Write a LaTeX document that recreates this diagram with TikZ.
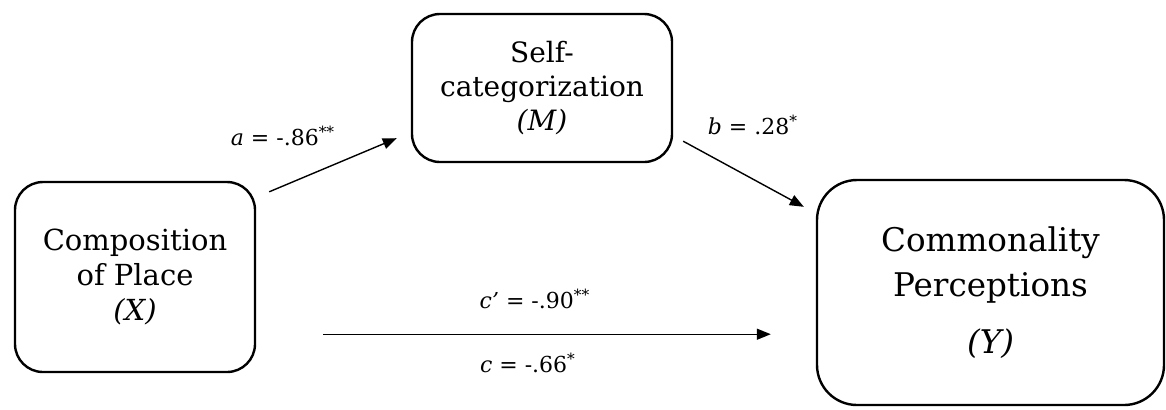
\documentclass[tikz,border=0pt]{standalone}
\usepackage{fontspec}
\setmainfont{DejaVu Serif}
\usetikzlibrary{arrows.meta, positioning, calc}

\begin{document}
\begin{tikzpicture}[x=0.5pt, y=-0.5pt,
        varbox/.style={draw, line width=1.2pt, rounded corners=14pt, align=center, inner sep=0pt},
        path/.style={line width=0.7pt, -{Triangle[length=7pt, width=5.5pt]}},
        coef/.style={font=\fontsize{11}{13}\selectfont}]
        \useasboundingbox (0,0) rectangle (1166,409);

        % X
        \node[varbox, minimum width=120pt, minimum height=95pt, font=\fontsize{14.5}{17.5}\selectfont] (X) at (135,277)
            {Composition\\of Place\\\textit{(X)}};

        % M
        \node[varbox, minimum width=130pt, minimum height=74pt, font=\fontsize{14}{17}\selectfont] (M) at (542,88)
            {Self-\\categorization\\\textit{(M)}};

        % Y
        \node[varbox, rounded corners=20pt, minimum width=173.5pt, minimum height=112.5pt, font=\fontsize{16.3}{22.5}\selectfont] (Y) at (990.5,292.5)
            {Commonality\\Perceptions\\[6pt]\textit{(Y)}};

        % paths
        \draw[path] ($(X.north east)+(13,11)$) -- ($(M.south west)+(-14,-25)$);
        \draw[path] ($(M.south east)+(10,-22)$) -- ($(Y.north west)+(-12,28)$);
        \draw[path] ($(X.south east)+(67,-39)$) -- ($(Y.south west)+(-45,-72)$);

        \node[coef] (a) at (283,136) {\textit{a} = -.86\textsuperscript{**}};
        \node[coef] (b) at (753,125) {\textit{b} = .28\textsuperscript{*}};
        \node[coef] (cp) at (535,299) {\textit{c’} = -.90\textsuperscript{**}};
        \node[coef] (c) at (528,363) {\textit{c} = -.66\textsuperscript{*}};
    \end{tikzpicture}
\end{document}
